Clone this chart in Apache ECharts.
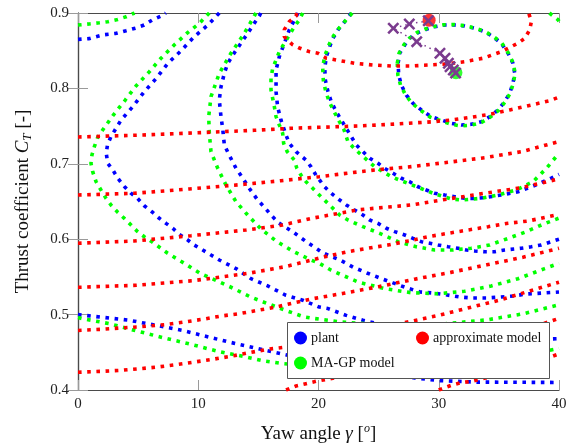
<!DOCTYPE html>
<html>
<head>
<meta charset="utf-8">
<script src="https://cdn.jsdelivr.net/npm/echarts@6/dist/echarts.min.js"></script>
<style>
  html, body { margin: 0; padding: 0; background: #ffffff; }
  #chart { width: 567px; height: 445px; }
</style>
</head>
<body>
<div id="chart"></div>
<script>
// ---- axis ranges and ticks ----
const xTicks = [0, 10, 20, 30, 40];
const yTicks = [0.4, 0.5, 0.6, 0.7, 0.8, 0.9];

// ---- plant contours (yaw angle, thrust coefficient) ----
const plantCorner = [[0,0.865],[0.94,0.866],[2.05,0.871],[3.16,0.873],[4.0,0.8765],[4.8,0.880],[5.5,0.884],[6.2,0.891],[6.9,0.896],[7.3,0.9]];
const plantOuter = [[11.75,0.9],[10.8,0.884],[9.67,0.8686],[8.57,0.85],[7.46,0.833],[6.49,0.813],[5.51,0.7956],[4.55,0.7757],[3.58,0.758],[2.74,0.736],[2.45,0.725],[2.35,0.714],[2.47,0.7007],[2.89,0.692],[3.3,0.681],[3.85,0.670],[4.4,0.661],[4.96,0.654],[5.51,0.6444],[6.2,0.6357],[6.76,0.6277],[7.32,0.621],[7.88,0.6145],[8.42,0.6065],[9.12,0.599],[9.67,0.5923],[10.37,0.5857],[11.06,0.579],[11.75,0.5724],[12.45,0.5667],[13.14,0.561],[14.39,0.5476],[15.78,0.538],[17.3,0.5256],[18.69,0.519],[20.07,0.510],[20.79,0.508],[22.3,0.499],[23.7,0.4925],[26,0.484],[29,0.476],[32,0.471],[35,0.468],[38,0.467],[40,0.468]];
const plantMid = [[15.2,0.9],[15.08,0.896],[14.66,0.8863],[14.11,0.873],[13.55,0.86],[12.87,0.844],[12.45,0.833],[12.17,0.82],[11.89,0.802],[11.75,0.7846],[11.89,0.7625],[12.03,0.747],[12.17,0.725],[12.56,0.712],[13.14,0.694],[13.7,0.681],[14.22,0.668],[14.94,0.652],[15.47,0.643],[16.05,0.632],[16.7,0.6215],[17.85,0.61],[18.96,0.597],[19.8,0.588],[20.37,0.5817],[21.79,0.5724],[22.87,0.563],[24.03,0.5552],[25.11,0.5485],[26.2,0.542],[27.36,0.5353],[28.44,0.53],[29.5,0.5286],[30.7,0.526],[31.77,0.5233],[32.85,0.522],[34.0,0.522],[35.1,0.5233],[36.2,0.5247],[37.3,0.5273],[38.7,0.5286],[40,0.53]];
const plantInner = [[18.3,0.9],[18.13,0.895],[17.57,0.8775],[17.16,0.86],[16.74,0.842],[16.47,0.8244],[16.47,0.809],[16.47,0.7956],[16.6,0.7757],[16.88,0.758],[17.3,0.738],[17.57,0.7272],[18.13,0.716],[18.96,0.705],[19.38,0.696],[19.79,0.685],[20.5,0.6696],[21.06,0.661],[21.76,0.652],[22.31,0.6454],[23.0,0.6387],[23.7,0.632],[24.26,0.6255],[24.95,0.621],[25.64,0.6145],[26.34,0.61],[27.17,0.6056],[27.86,0.601],[28.55,0.5967],[29.25,0.5946],[29.94,0.5923],[30.77,0.59],[31.6,0.588],[32.3,0.5857],[33.0,0.5844],[33.82,0.5834],[34.65,0.5834],[35.48,0.5857],[36.87,0.588],[37.7,0.590],[38.53,0.5923],[39.36,0.5967],[40,0.6]];
const plantNear = [[22.73,0.9],[22.18,0.8885],[21.62,0.8775],[21.2,0.8664],[20.93,0.8553],[20.65,0.842],[20.52,0.8267],[20.57,0.8111],[20.79,0.7956],[21.06,0.7824],[21.48,0.769],[21.9,0.758],[22.31,0.747],[22.73,0.736],[23.14,0.725],[23.7,0.716],[24.26,0.7073],[24.95,0.7007],[25.5,0.694],[26.2,0.6874],[26.89,0.6808],[27.58,0.6763],[28.27,0.6696],[28.96,0.6653],[29.66,0.661],[30.5,0.6586],[31.33,0.6564],[32.16,0.6542],[33.0,0.6542],[33.82,0.655],[35.2,0.6586],[36.6,0.663],[38.1,0.672],[39.36,0.681],[40,0.686]];
const plantRing = [[26.62,0.8333],[26.75,0.8466],[27.17,0.8576],[27.58,0.8664],[28.27,0.8739],[28.96,0.8784],[29.66,0.8818],[30.5,0.8841],[31.33,0.8841],[32.16,0.8828],[32.99,0.8797],[33.82,0.8752],[34.51,0.8686],[35.2,0.8598],[35.76,0.8466],[36.17,0.8333],[36.32,0.82],[36.17,0.8068],[35.9,0.7935],[35.48,0.7824],[34.93,0.7714],[34.24,0.7625],[33.54,0.7558],[32.7,0.7524],[31.88,0.7515],[31.04,0.7537],[30.21,0.7581],[29.38,0.7625],[28.55,0.7714],[27.86,0.7802],[27.3,0.7912],[26.89,0.8045],[26.67,0.8178],[26.62,0.8333]];
const plantLow = [[0,0.5],[4.27,0.4925],[8.7,0.479],[12.45,0.464],[16.9,0.448],[20,0.438],[24,0.426],[28,0.416],[30,0.4125],[33,0.4105],[40,0.41]];

// ---- MA-GP model contours ----
const magpCorner = [[0,0.884],[0.94,0.8855],[1.77,0.887],[2.47,0.8885],[3.3,0.8915],[4.0,0.895],[4.7,0.9]];
const magpOuter = [[10.92,0.9],[10.09,0.8863],[9.12,0.874],[8.0,0.8576],[6.9,0.84],[5.93,0.8221],[4.82,0.8032],[3.93,0.7846],[2.94,0.7647],[2.05,0.7448],[1.64,0.7352],[1.36,0.7227],[1.16,0.7117],[1.08,0.7007],[1.22,0.6896],[1.5,0.6763],[1.91,0.6653],[2.33,0.6542],[2.74,0.6454],[3.3,0.6357],[3.85,0.6277],[4.41,0.6188],[4.96,0.61],[5.51,0.6033],[6.21,0.5959],[6.9,0.5879],[7.46,0.5813],[8.15,0.5747],[8.84,0.568],[10.15,0.5548],[11.53,0.545],[12.91,0.5349],[14.3,0.5237],[15.69,0.515],[17.2,0.506],[18.74,0.4972],[19.57,0.495],[22,0.49],[26,0.486],[30,0.487],[34,0.493],[37,0.501],[40,0.513]];
const magpMid = [[14.8,0.9],[14.66,0.896],[13.83,0.873],[12.72,0.8466],[11.75,0.82],[11.06,0.789],[10.87,0.7625],[10.92,0.7405],[11.06,0.716],[11.62,0.694],[12.3,0.672],[13.14,0.6497],[14.11,0.632],[15.22,0.6135],[16.47,0.5976],[17.85,0.5843],[19.38,0.5724],[20.07,0.568],[21.06,0.5588],[23.28,0.5432],[25.5,0.5344],[27.72,0.529],[29.94,0.5277],[32.16,0.531],[34.37,0.538],[36.59,0.5476],[38.81,0.561],[40,0.568]];
const magpInner = [[18.69,0.9],[18.4,0.8907],[17.99,0.8818],[17.57,0.8708],[16.74,0.8487],[16.47,0.8377],[16.19,0.8267],[16.05,0.8134],[16.05,0.798],[16.19,0.7869],[16.33,0.7757],[16.47,0.7625],[16.74,0.7515],[17.02,0.7405],[17.1,0.7272],[17.4,0.716],[17.99,0.705],[18.2,0.694],[18.54,0.6851],[18.96,0.6763],[19.52,0.6675],[20.07,0.6586],[21.06,0.6431],[21.76,0.632],[22.45,0.6255],[23.7,0.6166],[25.09,0.6078],[26.61,0.5967],[28.13,0.59],[29.66,0.5857],[31.18,0.5857],[32.7,0.588],[34.24,0.5923],[35.76,0.601],[37.28,0.61],[38.67,0.6198],[40,0.628]];
const magpNear = [[22.8,0.9],[22.2,0.889],[21.6,0.878],[21.1,0.866],[20.8,0.855],[20.5,0.842],[20.35,0.827],[20.4,0.811],[20.6,0.796],[20.9,0.782],[21.3,0.769],[21.7,0.757],[22.1,0.746],[22.45,0.7293],[23.0,0.72],[23.56,0.7117],[24.67,0.6962],[26.05,0.6829],[27.44,0.674],[29.52,0.661],[31.05,0.6533],[31.87,0.652],[33.54,0.6542],[34.93,0.6586],[36.45,0.6653],[37.84,0.6763],[38.95,0.694],[40,0.714]];
const magpRing = [[26.55,0.8333],[26.7,0.8466],[27.1,0.8576],[27.55,0.8664],[28.2,0.8742],[28.9,0.8788],[29.6,0.8822],[30.45,0.8845],[31.3,0.8846],[32.16,0.8832],[33.0,0.88],[33.85,0.8755],[34.55,0.8688],[35.25,0.86],[35.8,0.8466],[36.2,0.8333],[36.35,0.82],[36.2,0.8065],[35.92,0.793],[35.5,0.7818],[34.95,0.7706],[34.25,0.7615],[33.55,0.7548],[32.7,0.7512],[31.85,0.7502],[31.0,0.7525],[30.15,0.7572],[29.3,0.7618],[28.5,0.7708],[27.8,0.78],[27.25,0.791],[26.82,0.8045],[26.6,0.8178],[26.55,0.8333]];
const magpLow = [[0,0.496],[0.39,0.4946],[2.6,0.488],[4.96,0.478],[7.18,0.469],[9.54,0.460],[11.62,0.4513],[13.97,0.4438],[15.5,0.4385],[17.0,0.435],[20,0.431],[25,0.43],[30,0.433],[35,0.44],[40,0.455]];
const magpTopRight = [[39.2,0.9],[39.92,0.891],[40,0.889]];

// ---- approximate model contours ----
const approxCap = [[18.2,0.9],[18.13,0.896],[17.57,0.8885],[17.16,0.878],[17.16,0.8686],[17.8,0.8585],[18.46,0.8532],[19.24,0.8487],[19.96,0.8466],[20.65,0.84],[21.48,0.8377],[23.0,0.8333],[24.53,0.831],[26.05,0.8297],[27.72,0.8297],[29.1,0.831],[30.63,0.8324],[32.16,0.8354],[33.68,0.84],[35.2,0.8487],[36.6,0.86],[37.15,0.8664],[37.56,0.8775],[37.7,0.8885],[37.48,0.9]];
const approxA = [[0,0.7355],[5.38,0.7382],[9.95,0.7412],[14.66,0.7444],[17.71,0.7471],[20.07,0.7484],[23.28,0.7501],[26.47,0.7528],[29.52,0.7558],[31.05,0.7581],[32.7,0.7617],[34.37,0.766],[35.9,0.7714],[37.7,0.778],[39.23,0.7837],[40,0.7885]];
const approxB = [[0,0.6586],[4.68,0.6609],[9.26,0.6666],[13.83,0.6728],[16.88,0.6776],[20.07,0.6829],[21.62,0.686],[24.67,0.6918],[27.72,0.6962],[30.77,0.702],[33.82,0.7081],[36.87,0.716],[40,0.7295]];
const approxC = [[0,0.5946],[4.68,0.5976],[9.4,0.6046],[13.97,0.6122],[17.0,0.6188],[19.54,0.628],[23.2,0.6387],[24.67,0.641],[27.72,0.6454],[30.77,0.6533],[33.82,0.6609],[36.87,0.6683],[40,0.68]];
const approxD = [[0,0.5362],[4.88,0.5389],[9.59,0.545],[14.16,0.5548],[17.21,0.5635],[20.52,0.5768],[22.45,0.5834],[24.12,0.588],[25.78,0.5923],[27.44,0.5976],[29.1,0.6033],[30.77,0.6078],[32.43,0.6122],[34.1,0.6166],[35.76,0.6211],[37.42,0.6241],[39.08,0.6298],[40,0.633]];
const approxE = [[0,0.479],[1.91,0.4805],[3.43,0.4822],[4.96,0.4836],[7.18,0.4866],[8.84,0.4902],[10.37,0.4938],[11.89,0.4981],[13.41,0.5012],[14.94,0.5057],[16.47,0.51],[17.99,0.5158],[19.52,0.5211],[22,0.528],[25,0.537],[28,0.547],[31,0.556],[34,0.566],[37,0.576],[40,0.588]];
const approxF = [[0,0.4235],[2.05,0.4248],[3.58,0.4261],[5.1,0.4282],[6.63,0.4305],[8.15,0.4336],[9.67,0.4371],[11.2,0.4407],[12.72,0.4447],[14.25,0.4495],[15.78,0.454],[17.3,0.457],[20,0.466],[25,0.482],[30,0.499],[35,0.519],[40,0.543]];
const approxG = [[17.3,0.4],[18.13,0.4053],[18.96,0.4084],[19.79,0.4115],[25,0.427],[30,0.446],[35,0.468],[40,0.495]];
const approxH = [[30.0,0.4],[31.04,0.4062],[31.87,0.4097],[32.7,0.4115],[35,0.42],[37.5,0.433],[40,0.448]];

// ---- optimisation iterates and optima ----
const iterGamma = [29.13, 27.55, 26.22, 28.17, 30.1, 30.52, 30.8, 30.94, 31.21, 31.4];
const iterCT    = [0.8898, 0.8854, 0.8797, 0.862, 0.8466, 0.84, 0.8333, 0.8288, 0.8244, 0.8205];
const approxOptimum = [29.2, 0.8905];
const magpOptimum = [31.43, 0.8208];

const BLUE = '#0000ff', GREEN = '#00ff00', RED = '#ff0000', PURPLE = '#7b3b8e';
const SERIF = '"Liberation Serif", "Times New Roman", serif';

function contour(name, color, pts) {
  return {
    type: 'line', name: name, data: pts,
    symbol: 'none', smooth: false, silent: true, clip: true,
    itemStyle: { color: color },
    lineStyle: { color: color, width: 3.6, type: [3.6, 5.6], cap: 'butt' },
    z: 2
  };
}

const series = [];
[plantCorner, plantOuter, plantMid, plantInner, plantNear, plantRing, plantLow]
  .forEach(p => series.push(contour('plant', BLUE, p)));
[magpCorner, magpOuter, magpMid, magpInner, magpNear, magpRing, magpLow, magpTopRight]
  .forEach(p => series.push(contour('MA-GP model', GREEN, p)));
[approxCap, approxA, approxB, approxC, approxD, approxE, approxF, approxG, approxH]
  .forEach(p => series.push(contour('approximate model', RED, p)));

// optimum markers
series.push({
  type: 'scatter', name: 'approx-opt', data: [approxOptimum], symbol: 'circle', symbolSize: 13,
  itemStyle: { color: RED }, silent: true, z: 5
});
series.push({
  type: 'scatter', name: 'magp-opt', data: [magpOptimum], symbol: 'circle', symbolSize: 13,
  itemStyle: { color: GREEN }, silent: true, z: 5
});
// iterate path
series.push({
  type: 'line', name: 'iterates',
  data: iterGamma.map((g, i) => [g, iterCT[i]]),
  symbol: 'path://M1.5,0 L5,3.5 L8.5,0 L10,1.5 L6.5,5 L10,8.5 L8.5,10 L5,6.5 L1.5,10 L0,8.5 L3.5,5 L0,1.5 Z',
  symbolSize: 12, showSymbol: true,
  itemStyle: { color: PURPLE },
  lineStyle: { color: PURPLE, width: 1.5, type: [1.5, 4] },
  silent: true, z: 6
});

const axisLineStyle = { color: '#4a4a4a', width: 1.2 };
const tickStyle = { color: '#9a9a9a', width: 1 };

const option = {
  animation: false,
  backgroundColor: '#ffffff',
  grid: { left: 78, right: 8, top: 13, bottom: 55, containLabel: false, outerBoundsMode: 'none' },
  xAxis: [
    {
      type: 'value', min: xTicks[0], max: xTicks[xTicks.length - 1], interval: 10, position: 'bottom',
      axisLine: { show: true, lineStyle: axisLineStyle },
      axisTick: { show: true, inside: true, length: 10, lineStyle: tickStyle },
      axisLabel: { show: true, margin: 7, fontFamily: SERIF, fontSize: 15, color: '#222' },
      splitLine: { show: false },
      name: '{n|Yaw angle }{i|γ}{n| [}{s|o}{n|]}',
      nameLocation: 'middle', nameGap: 33,
      nameTextStyle: {
        fontFamily: SERIF, fontSize: 19, color: '#111',
        rich: {
          n: { fontFamily: SERIF, fontSize: 19, color: '#111', lineHeight: 22 },
          i: { fontFamily: SERIF, fontSize: 19, fontStyle: 'italic', color: '#111', lineHeight: 22 },
          s: { fontFamily: SERIF, fontSize: 12, fontStyle: 'italic', color: '#111', lineHeight: 13, verticalAlign: 'top' }
        }
      }
    },
    {
      type: 'value', min: xTicks[0], max: xTicks[xTicks.length - 1], interval: 10, position: 'top',
      axisLine: { show: true, lineStyle: axisLineStyle },
      axisTick: { show: true, inside: true, length: 10, lineStyle: tickStyle },
      axisLabel: { show: false }, splitLine: { show: false }
    }
  ],
  yAxis: [
    {
      type: 'value', min: yTicks[0], max: yTicks[yTicks.length - 1], interval: 0.1, position: 'left',
      axisLine: { show: true, lineStyle: axisLineStyle },
      axisTick: { show: true, inside: true, length: 10, lineStyle: tickStyle },
      axisLabel: { show: true, margin: 9, fontFamily: SERIF, fontSize: 15, color: '#222',
                   formatter: v => v.toFixed(1) },
      splitLine: { show: false },
      name: '{n|Thrust coefficient }{i|C}{t|T}{n| [-]}',
      nameLocation: 'middle', nameGap: 44, nameRotate: 90,
      nameTextStyle: {
        fontFamily: SERIF, fontSize: 19, color: '#111',
        rich: {
          n: { fontFamily: SERIF, fontSize: 19, color: '#111', lineHeight: 22 },
          i: { fontFamily: SERIF, fontSize: 19, fontStyle: 'italic', color: '#111', lineHeight: 22 },
          t: { fontFamily: SERIF, fontSize: 13, fontStyle: 'italic', color: '#111', lineHeight: 13, verticalAlign: 'bottom' }
        }
      }
    },
    {
      type: 'value', min: yTicks[0], max: yTicks[yTicks.length - 1], interval: 0.1, position: 'right',
      axisLine: { show: true, lineStyle: axisLineStyle },
      axisTick: { show: true, inside: true, length: 10, lineStyle: tickStyle },
      axisLabel: { show: false }, splitLine: { show: false }
    }
  ],
  legend: [
    {
      data: ['plant', 'MA-GP model'], orient: 'vertical', left: 294, top: 331,
      icon: 'circle', itemWidth: 13, itemHeight: 13, itemGap: 11, padding: 0,
      selectedMode: false, z: 10,
      textStyle: { fontFamily: SERIF, fontSize: 14, color: '#111', padding: [0, 0, 0, -1] }
    },
    {
      data: ['approximate model'], orient: 'vertical', left: 416, top: 331,
      icon: 'circle', itemWidth: 13, itemHeight: 13, padding: 0,
      selectedMode: false, z: 10,
      textStyle: { fontFamily: SERIF, fontSize: 14, color: '#111', padding: [0, 0, 0, -1] }
    }
  ],
  graphic: [
    {
      type: 'rect', z: 8, silent: true,
      shape: { x: 287.5, y: 322.5, width: 262, height: 56 },
      style: { fill: '#ffffff', stroke: '#555555', lineWidth: 1 }
    }
  ],
  series: series
};

const chart = echarts.init(document.getElementById('chart'), null, { renderer: 'canvas' });
chart.setOption(option);
</script>
</body>
</html>
